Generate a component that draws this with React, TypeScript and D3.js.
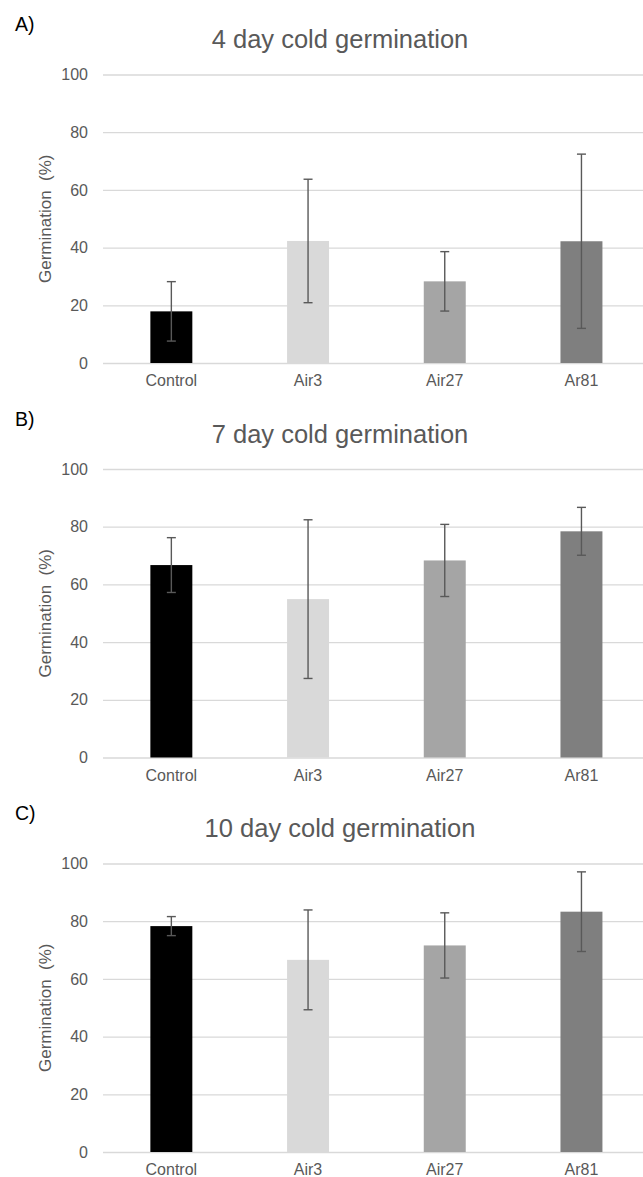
import React, { useEffect, useRef } from 'react';
import * as d3 from 'd3';

// Data
const categories = ['Control', 'Air3', 'Air27', 'Ar81'];
const panelLetters = ['A)', 'B)', 'C)'];
const panelTitles = ['4 day cold germination', '7 day cold germination', '10 day cold germination'];
const yTicks = [0, 20, 40, 60, 80, 100];

const mean4 = [17.9, 42.3, 28.3, 42.2];
const err4 = [10.3, 21.4, 10.3, 30.2];
const mean7 = [66.7, 54.9, 68.3, 78.4];
const err7 = [9.5, 27.5, 12.5, 8.3];
const mean10 = [78.3, 66.6, 71.6, 83.3];
const err10 = [3.3, 17.3, 11.3, 13.8];

const means = [mean4, mean7, mean10];
const errors = [err4, err7, err10];

const App = () => {
  const svgRef = useRef<SVGSVGElement>(null);

  useEffect(() => {
    const W = 643;
    const H = 1177;
    const font = "'Liberation Sans', Arial, sans-serif";
    const textColor = '#595959';
    const gridColor = '#d9d9d9';
    const barColors = ['#000000', '#d9d9d9', '#a5a5a5', '#7f7f7f'];

    const root = d3.select(svgRef.current);
    root.selectAll('*').remove();
    root.attr('width', W).attr('height', H);

    root.append('rect').attr('width', W).attr('height', H).attr('fill', '#fff');

    // shared x scale, plot runs a bit past the right edge like the original
    const x = d3.scaleBand()
      .domain(categories)
      .range([103, 649.8])
      .padding(0);
    const barW = x.bandwidth() * 0.307;
    const capW = 9;

    const panelOffset = 394.5;

    panelTitles.forEach((title, p) => {
      const g = root.append('g').attr('transform', `translate(0,${p * panelOffset})`);

      const y = d3.scaleLinear().domain([0, 100]).range([363, 74.5]);

      // panel letter
      g.append('text')
        .attr('x', 15)
        .attr('y', 31)
        .attr('font-family', font)
        .attr('font-size', 19.5)
        .attr('fill', '#000')
        .text(panelLetters[p]);

      // title
      g.append('text')
        .attr('x', 340)
        .attr('y', 48)
        .attr('text-anchor', 'middle')
        .attr('font-family', font)
        .attr('font-size', 25.5)
        .attr('fill', textColor)
        .text(title);

      // gridlines + tick labels
      const axis = g.append('g')
        .call(d3.axisLeft(y)
          .tickValues(yTicks)
          .tickSize(-(649.8 - 103))
          .tickPadding(15)
          .tickFormat(d3.format('d')))
        .attr('transform', 'translate(103,0)');
      axis.select('.domain').remove();
      axis.selectAll('line')
        .attr('stroke', gridColor)
        .attr('stroke-width', 1.3);
      axis.selectAll('text')
        .attr('font-family', font)
        .attr('font-size', 16)
        .attr('fill', textColor);

      // y axis title
      g.append('text')
        .attr('transform', `translate(51,${(y(0) + y(100)) / 2}) rotate(-90)`)
        .attr('text-anchor', 'middle')
        .attr('font-family', font)
        .attr('font-size', 17)
        .attr('fill', textColor)
        .attr('xml:space', 'preserve')
        .text('Germination  (%)');

      const rows = categories.map((c, i) => ({ cat: c, v: means[p][i], e: errors[p][i], i }));

      // bars
      g.selectAll('rect.bar')
        .data(rows)
        .enter()
        .append('rect')
        .attr('class', 'bar')
        .attr('x', d => x(d.cat)! + x.bandwidth() / 2 - barW / 2)
        .attr('width', barW)
        .attr('y', d => y(d.v))
        .attr('height', d => y(0) - y(d.v))
        .attr('fill', d => barColors[d.i]);

      // error bars
      const eb = g.selectAll('g.err')
        .data(rows)
        .enter()
        .append('g')
        .attr('class', 'err')
        .attr('stroke', textColor)
        .attr('stroke-width', 1.4);
      const cx = (d: any) => x(d.cat)! + x.bandwidth() / 2;
      eb.append('line')
        .attr('x1', cx).attr('x2', cx)
        .attr('y1', d => y(d.v + d.e)).attr('y2', d => y(d.v - d.e));
      eb.append('line')
        .attr('x1', d => cx(d) - capW / 2).attr('x2', d => cx(d) + capW / 2)
        .attr('y1', d => y(d.v + d.e)).attr('y2', d => y(d.v + d.e));
      eb.append('line')
        .attr('x1', d => cx(d) - capW / 2).attr('x2', d => cx(d) + capW / 2)
        .attr('y1', d => y(d.v - d.e)).attr('y2', d => y(d.v - d.e));

      // category labels
      g.selectAll('text.cat')
        .data(categories)
        .enter()
        .append('text')
        .attr('class', 'cat')
        .attr('x', d => x(d)! + x.bandwidth() / 2)
        .attr('y', y(0) + 23)
        .attr('text-anchor', 'middle')
        .attr('font-family', font)
        .attr('font-size', 16)
        .attr('fill', textColor)
        .text(d => d);
    });
  }, []);

  return (
    <svg ref={svgRef} style={{ position: 'absolute', left: 0, top: 0, display: 'block' }}></svg>
  );
};

export default App;
